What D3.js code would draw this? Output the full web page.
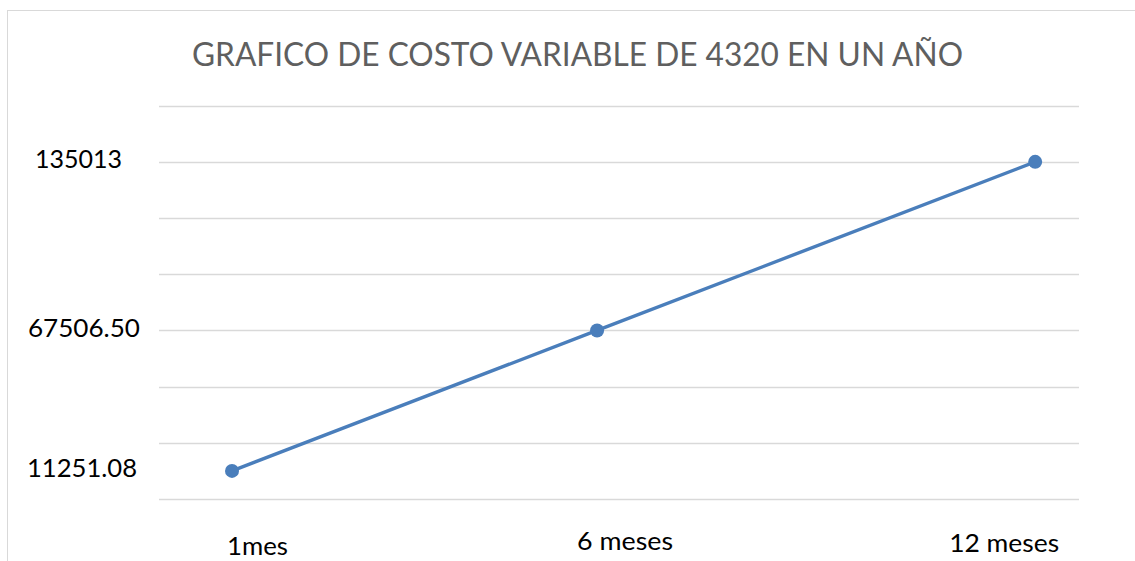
<!DOCTYPE html>
<html><head><meta charset="utf-8">
<script src="https://cdn.jsdelivr.net/npm/d3@7"></script>
<style>body{margin:0;background:#fff;} svg{display:block;}</style>
</head><body>
<svg id="c" width="1135" height="561"></svg>
<script>
const title = "GRAFICO DE COSTO VARIABLE DE 4320 EN UN AÑO";
const months = [1, 6, 12];
const categories = ["1mes", "6 meses", "12 meses"];
const values = [11251.08, 67506.50, 135013];
const yLabels = ["11251.08", "67506.50", "135013"];
const gridValues = [0, 22500, 45000, 67500, 90000, 112500, 135000, 157500];

// layout-only tweaks (label placement offsets as in the original)
const yLabelLeft = [27, 28, 35];
const yLabelWidth = [110, 112, 87];
const xLabelDx = [25.5, 28, -31];
const xLabelBase = [555, 550, 552];
const xLabelWidth = [61, 96, 110];

const svg = d3.select("#c");
svg.append("rect").attr("x", 7.5).attr("y", 10.5).attr("width", 1140).attr("height", 600)
  .attr("fill", "#fff").attr("stroke", "#d9d9d9").attr("stroke-width", 1);

const x = d3.scaleLinear().domain([0, 12.6]).range([159, 1079]);
const y = d3.scaleLinear().domain([0, 157500]).range([499, 105.7]);

svg.append("g").selectAll("line").data(gridValues).join("line")
  .attr("x1", 159).attr("x2", 1079)
  .attr("y1", d => Math.round(y(d)) + 0.5).attr("y2", d => Math.round(y(d)) + 0.5)
  .attr("stroke", "#d9d9d9").attr("stroke-width", 1.3);

const font = "Lato, 'Open Sans', sans-serif";

svg.append("text").attr("x", 192).attr("y", 66)
  .attr("font-family", font).attr("font-size", 33).attr("fill", "#5f5f5f")
  .attr("textLength", 771).attr("lengthAdjust", "spacingAndGlyphs")
  .text(title);

svg.append("path").datum(months.map((m, i) => [m, values[i]]))
  .attr("fill", "none").attr("stroke", "#4a7ebb").attr("stroke-width", 3.4)
  .attr("d", d3.line().x(d => x(d[0])).y(d => y(d[1])));

svg.append("g").selectAll("circle").data(months).join("circle")
  .attr("cx", d => x(d)).attr("cy", (d, i) => y(values[i])).attr("r", 7)
  .attr("fill", "#4a7ebb");

svg.append("g").selectAll("text").data(values).join("text")
  .attr("x", (d, i) => yLabelLeft[i]).attr("y", d => y(d) + 6.5)
  .attr("font-family", font).attr("font-size", 25).attr("fill", "#000")
  .attr("textLength", (d, i) => yLabelWidth[i]).attr("lengthAdjust", "spacingAndGlyphs")
  .text((d, i) => yLabels[i]);

svg.append("g").selectAll("text").data(months).join("text")
  .attr("x", (d, i) => x(d) + xLabelDx[i]).attr("y", (d, i) => xLabelBase[i])
  .attr("text-anchor", "middle")
  .attr("font-family", font).attr("font-size", 25).attr("fill", "#000")
  .attr("textLength", (d, i) => xLabelWidth[i]).attr("lengthAdjust", "spacingAndGlyphs")
  .text((d, i) => categories[i]);
</script>
</body></html>
